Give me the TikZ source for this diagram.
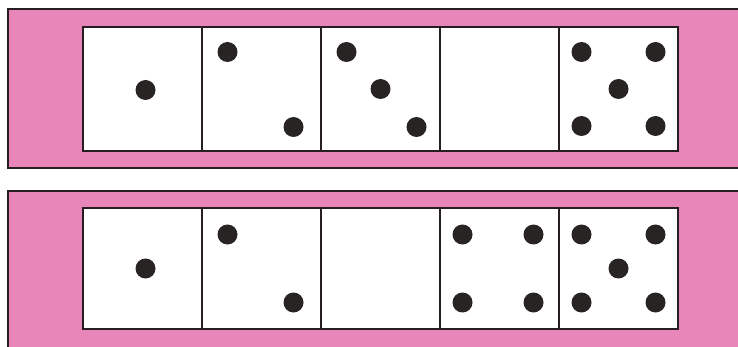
\documentclass[tikz,border=0pt]{standalone}
\usetikzlibrary{calc}
\definecolor{dominoPink}{RGB}{232,134,186}
\definecolor{edgeDark}{RGB}{38,30,34}
\definecolor{pipDark}{RGB}{40,36,36}

\begin{document}
\begin{tikzpicture}[
  x=1pt, y=-1pt,
  band/.style={fill=dominoPink, draw=edgeDark, line width=2pt},
  cell/.style={
    rectangle,
    draw=edgeDark,
    fill=white,
    inner sep=0pt,
    outer sep=0pt,
    minimum width=119pt,
    line width=1.6pt,
  },
  pip/.style={
    circle,
    fill=pipDark,
    inner sep=0pt,
    minimum size=20pt,
  },
]

  \clip (0,0) rectangle (738,347);
  \fill[white] (0,0) rectangle (738,347);

  % the two pink strips
  \draw[band] (8,9) rectangle (760,168);
  \draw[band] (8,191) rectangle (760,370);

  % top row of cells
  \node[cell, minimum height=124pt] (t1) at (142.5,89) {};
  \node[cell, minimum height=124pt] (t2) at (261.5,89) {};
  \node[cell, minimum height=124pt] (t3) at (380.5,89) {};
  \node[cell, minimum height=124pt] (t4) at (499.5,89) {};
  \node[cell, minimum height=124pt] (t5) at (618.5,89) {};

  % bottom row of cells
  \node[cell, minimum height=121pt] (b1) at (142.5,268.5) {};
  \node[cell, minimum height=121pt] (b2) at (261.5,268.5) {};
  \node[cell, minimum height=121pt] (b3) at (380.5,268.5) {};
  \node[cell, minimum height=121pt] (b4) at (499.5,268.5) {};
  \node[cell, minimum height=121pt] (b5) at (618.5,268.5) {};

  % pips, top row
  \node[pip] (t1c) at ($(t1.center)+(3,1)$) {};
  \node[pip] (t2a) at ($(t2.center)+(-34,-37)$) {};
  \node[pip] (t2b) at ($(t2.center)+(32,38)$) {};
  \node[pip] (t3a) at ($(t3.center)+(-34,-37)$) {};
  \node[pip] (t3c) at ($(t3.center)+(0,0)$) {};
  \node[pip] (t3b) at ($(t3.center)+(36,38)$) {};
  \node[pip] (t5a) at ($(t5.center)+(-37,-37)$) {};
  \node[pip] (t5b) at ($(t5.center)+(37,-37)$) {};
  \node[pip] (t5c) at ($(t5.center)+(0,0)$) {};
  \node[pip] (t5d) at ($(t5.center)+(-37,37)$) {};
  \node[pip] (t5e) at ($(t5.center)+(37,37)$) {};

  % pips, bottom row
  \node[pip] (b1c) at ($(b1.center)+(3,0)$) {};
  \node[pip] (b2a) at ($(b2.center)+(-34,-34)$) {};
  \node[pip] (b2b) at ($(b2.center)+(32,34)$) {};
  \node[pip] (b4a) at ($(b4.center)+(-37,-34)$) {};
  \node[pip] (b4b) at ($(b4.center)+(34,-34)$) {};
  \node[pip] (b4c) at ($(b4.center)+(-37,34)$) {};
  \node[pip] (b4d) at ($(b4.center)+(34,34)$) {};
  \node[pip] (b5a) at ($(b5.center)+(-37,-34)$) {};
  \node[pip] (b5b) at ($(b5.center)+(37,-34)$) {};
  \node[pip] (b5c) at ($(b5.center)+(0,0)$) {};
  \node[pip] (b5d) at ($(b5.center)+(-37,34)$) {};
  \node[pip] (b5e) at ($(b5.center)+(37,34)$) {};

\end{tikzpicture}
\end{document}
